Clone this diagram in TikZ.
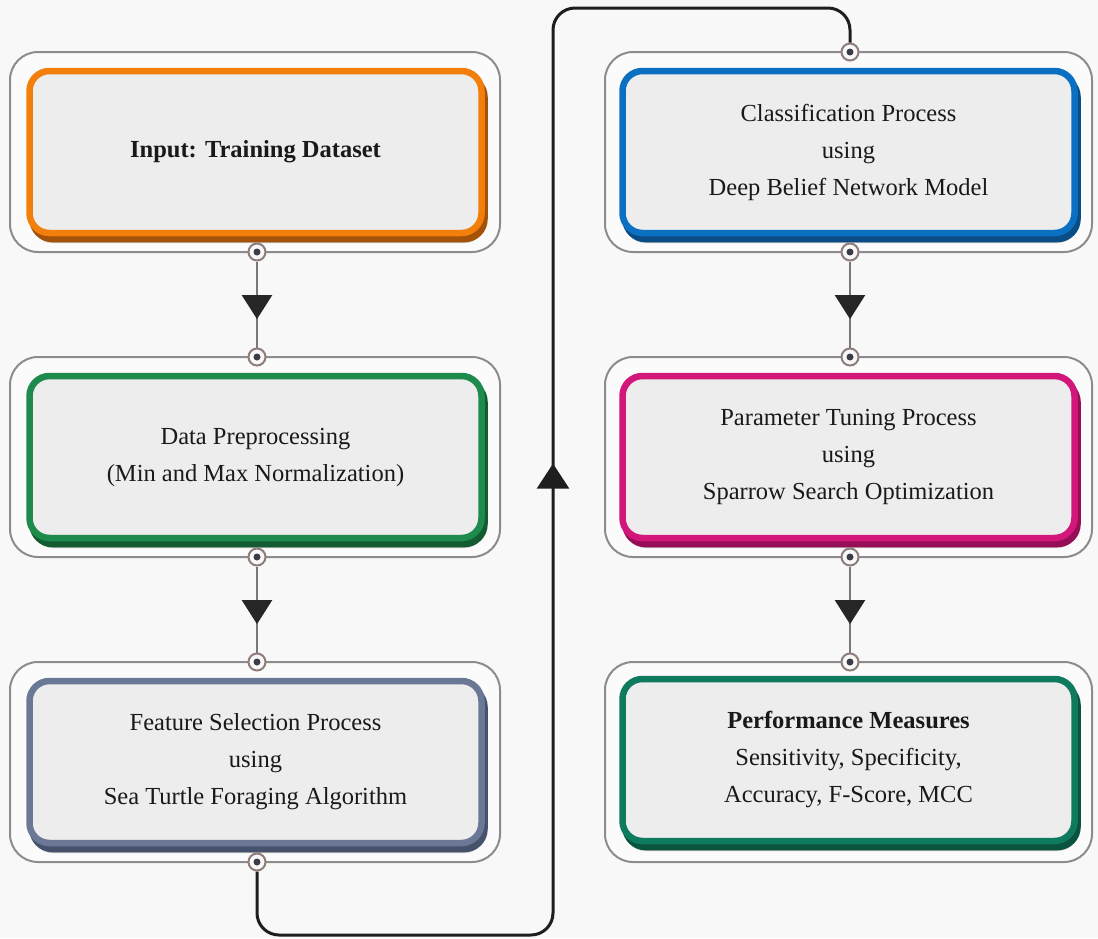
\documentclass[tikz,border=0pt]{standalone}
\usepackage{fontspec}
\setmainfont{Liberation Serif}
\usetikzlibrary{arrows.meta,decorations.markings}

\definecolor{pagebg}{HTML}{F8F8F8}
\definecolor{framegray}{HTML}{8C8C8C}
\definecolor{panelfill}{HTML}{EDEDED}
\definecolor{portring}{HTML}{8E7E7A}
\definecolor{portdot}{HTML}{3C3C48}
\definecolor{stemgray}{HTML}{787878}
\definecolor{tipdark}{HTML}{262626}
\definecolor{loopblack}{HTML}{1E1E1E}
\definecolor{orng}{HTML}{F27E0C}\definecolor{orngdk}{HTML}{A45208}
\definecolor{grn}{HTML}{1E8A4C}\definecolor{grndk}{HTML}{135C32}
\definecolor{slate}{HTML}{6A7896}\definecolor{slatedk}{HTML}{46526C}
\definecolor{blu}{HTML}{0C70C2}\definecolor{bludk}{HTML}{0A4C86}
\definecolor{mgnt}{HTML}{D2167A}\definecolor{mgntdk}{HTML}{960E56}
\definecolor{teal}{HTML}{0F7B5E}\definecolor{tealdk}{HTML}{0A543F}

\begin{document}
\begin{tikzpicture}[x=1pt,y=-1pt,
  frame/.style={draw=framegray, line width=2pt, rounded corners=28pt,
    fill=pagebg!60!white, minimum width=490pt, minimum height=200pt, inner sep=0pt},
  panel/.style={draw=#1, line width=6.5pt, rounded corners=20pt, fill=panelfill,
    minimum width=452pt, minimum height=162pt, align=center, text=black!90,
    font=\fontsize{24.5}{37}\selectfont,
    preaction={fill=black, opacity=0.22, draw=none,
      transform canvas={shift={(3pt,-10pt)}}},
    preaction={draw=#1dk, fill=#1dk, transform canvas={shift={(3pt,-6pt)}}}},
  port/.style={circle, draw=portring, line width=2pt, fill=pagebg,
    minimum size=17pt, inner sep=0pt,
    path picture={\fill[portdot] (path picture bounding box.center) circle (3.5pt);}},
  stem/.style={draw=stemgray, line width=2.2pt,
    decoration={markings, mark=at position 0.67 with
      {\arrow[tipdark]{Triangle[width=30pt,length=24pt]}}},
    postaction=decorate},
  loop/.style={draw=loopblack, line width=3pt, rounded corners=22pt,
    decoration={markings, mark=at position 812pt with
      {\arrow{Triangle[width=32pt,length=25pt]}}},
    postaction=decorate}
]
\fill[pagebg] (0,0) rectangle (1098,938);
\useasboundingbox (0,0) rectangle (1098,938);

% left column frames and panels
\node[frame] (fL1) at (255,152) {};
\node[frame] (fL2) at (255,457) {};
\node[frame] (fL3) at (255,762) {};
\node[panel=orng] (tL1) at (255.5,152) {\textbf{Input: Training Dataset}};
\node[panel=grn] (tL2) at (255.5,457) {Data Preprocessing\\(Min and Max Normalization)};
\node[panel=slate] (tL3) at (255.5,762) {Feature Selection Process\\using\\Sea Turtle Foraging Algorithm};

% right column frames and panels
\node[frame, minimum width=487pt] (fR1) at (848.5,152) {};
\node[frame, minimum width=487pt] (fR2) at (848.5,457) {};
\node[frame, minimum width=487pt] (fR3) at (848.5,762) {};
\node[panel=blu] (tR1) at (848.5,152) {Classification Process\\using\\Deep Belief Network Model};
\node[panel=mgnt] (tR2) at (848.5,457) {Parameter Tuning Process\\using\\Sparrow Search Optimization};
\node[panel=teal] (tR3) at (848.5,760) {\textbf{Performance Measures}\\Sensitivity, Specificity,\\Accuracy, F-Score, MCC};

% connection ports
\node[port] (pL1b) at (257,252) {};
\node[port] (pL2t) at (257,357) {};
\node[port] (pL2b) at (257,557) {};
\node[port] (pL3t) at (257,662) {};
\node[port] (pL3b) at (257,862) {};
\node[port] (pR1t) at (850,52) {};
\node[port] (pR1b) at (850,252) {};
\node[port] (pR2t) at (850,357) {};
\node[port] (pR2b) at (850,557) {};
\node[port] (pR3t) at (850,662) {};

% flow between stages
\path[stem] (pL1b) -- (pL2t);
\path[stem] (pL2b) -- (pL3t);
\path[stem] (pR1b) -- (pR2t);
\path[stem] (pR2b) -- (pR3t);

\coordinate (lb) at (553,935);
\coordinate (lt) at (553,8);
\path[loop] (pL3b) |- (lb) -- (lt) -| (pR1t);
\end{tikzpicture}
\end{document}
